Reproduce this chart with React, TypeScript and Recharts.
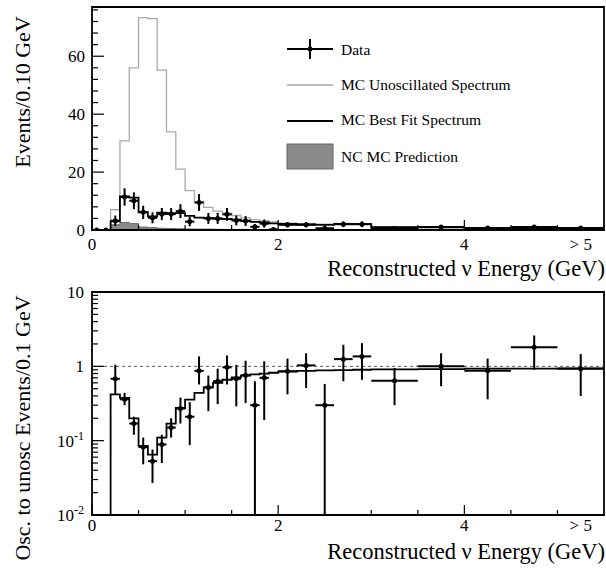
import React from 'react';
import {
  ComposedChart, Line, Area, Scatter, ErrorBar, XAxis, YAxis,
  ReferenceArea, ReferenceLine, Legend,
} from 'recharts';

const FONT = '"Liberation Serif", "DejaVu Serif", serif';

// histogram bin low edges (GeV), last entry closes the final bin
const binEdges = [0, 0.2, 0.3, 0.4, 0.5, 0.6, 0.7, 0.8, 0.9, 1.0, 1.1, 1.2, 1.3, 1.4, 1.5, 1.6, 1.7, 1.8, 1.9, 2.0, 2.2, 2.4, 2.6, 2.8, 3.0, 3.5, 4.0, 4.5, 5.0, 5.5];
// events / 0.10 GeV per bin
const unoscillated = [0, 7, 30.8, 56, 73.3, 73, 55.2, 33.9, 21, 13.6, 9.8, 7.8, 6.5, 5.8, 5.0, 4.2, 3.6, 3.2, 2.8, 2.4, 2.2, 2.0, 2.3, 2.2, 1.1, 1.0, 0.7, 0.6, 0.6];
const bestFit = [0, 3.0, 11.6, 11.2, 6.2, 4.7, 6.0, 5.8, 5.8, 4.9, 4.3, 4.1, 3.9, 3.8, 3.6, 3.2, 2.8, 2.6, 2.3, 2.1, 1.9, 1.8, 2.0, 2.0, 1.0, 0.9, 0.65, 0.55, 0.55];
const ncPrediction = [0, 1.8, 2.6, 2.2, 1.0, 0.8, 0.6, 0.5, 0.4, 0.35, 0.3, 0.3, 0.25, 0.2, 0.2, 0.2, 0.15, 0.15, 0.15, 0.1, 0.1, 0.1, 0.1, 0.1, 0.1, 0.05, 0.05, 0.05, 0.05];

// data points, top panel
const dataX = [0.05, 0.15, 0.25, 0.35, 0.45, 0.55, 0.65, 0.75, 0.85, 0.95, 1.05, 1.15, 1.25, 1.35, 1.45, 1.55, 1.65, 1.75, 1.85, 1.95, 2.1, 2.3, 2.5, 2.7, 2.9, 3.25, 3.75, 4.25, 4.75, 5.25];
const dataHalfWidth = [0.05, 0.05, 0.05, 0.05, 0.05, 0.05, 0.05, 0.05, 0.05, 0.05, 0.05, 0.05, 0.05, 0.05, 0.05, 0.05, 0.05, 0.05, 0.05, 0.05, 0.1, 0.1, 0.1, 0.1, 0.1, 0.25, 0.25, 0.25, 0.25, 0.25];
const dataEvents = [0, 0, 3.2, 11.4, 10.1, 6.1, 4.2, 5.5, 5.5, 6.5, 2.9, 9.5, 4.0, 4.0, 5.4, 3.3, 3.1, 1.1, 2.2, 0.2, 1.8, 1.8, 0.6, 2.0, 2.0, 0.5, 1.0, 0.7, 1.0, 0.7];
const dataErr = [0, 0, 1.8, 3.0, 2.9, 2.3, 1.9, 2.1, 2.1, 2.4, 1.6, 2.9, 1.9, 1.9, 2.2, 1.7, 1.7, 1.0, 1.4, 0.4, 0.9, 0.9, 0.5, 1.0, 1.0, 0.3, 0.45, 0.35, 0.45, 0.35];

// ratio panel
const ratioEdges = [0.2, 0.2, 0.3, 0.4, 0.5, 0.6, 0.7, 0.8, 0.9, 1.0, 1.1, 1.2, 1.3, 1.4, 1.5, 1.6, 1.7, 1.8, 1.9, 2.0, 2.2, 2.4, 2.6, 2.8, 3.0, 3.5, 4.0, 4.5, 5.0, 5.5];
const ratioBestFit = [0.01, 0.42, 0.376, 0.2, 0.085, 0.065, 0.11, 0.17, 0.275, 0.357, 0.44, 0.52, 0.6, 0.66, 0.71, 0.75, 0.78, 0.8, 0.82, 0.85, 0.87, 0.88, 0.89, 0.9, 0.91, 0.92, 0.93, 0.93, 0.94];
const ratioX = [0.25, 0.35, 0.45, 0.55, 0.65, 0.75, 0.85, 0.95, 1.05, 1.15, 1.25, 1.35, 1.45, 1.55, 1.65, 1.75, 1.85, 2.1, 2.3, 2.5, 2.7, 2.9, 3.25, 3.75, 4.25, 4.75, 5.25];
const ratioHalfWidth = [0.05, 0.05, 0.05, 0.05, 0.05, 0.05, 0.05, 0.05, 0.05, 0.05, 0.05, 0.05, 0.05, 0.05, 0.05, 0.05, 0.05, 0.1, 0.1, 0.1, 0.1, 0.1, 0.25, 0.25, 0.25, 0.25, 0.25];
const ratioVal = [0.68, 0.36, 0.17, 0.082, 0.053, 0.089, 0.15, 0.27, 0.21, 0.87, 0.52, 0.63, 0.97, 0.68, 0.76, 0.3, 0.7, 0.86, 1.03, 0.3, 1.25, 1.36, 0.64, 1.0, 0.87, 1.8, 0.93];
const ratioHi = [1.05, 0.44, 0.21, 0.11, 0.076, 0.12, 0.2, 0.38, 0.33, 1.36, 0.75, 0.93, 1.4, 1.05, 1.19, 0.63, 1.17, 1.27, 1.5, 0.58, 1.95, 2.05, 0.95, 1.5, 1.27, 2.6, 1.46];
const ratioLo = [0.42, 0.3, 0.12, 0.048, 0.027, 0.05, 0.11, 0.17, 0.087, 0.57, 0.25, 0.31, 0.57, 0.29, 0.32, 0.01, 0.19, 0.42, 0.51, 0.01, 0.63, 0.66, 0.3, 0.54, 0.36, 0.9, 0.4];

const xTicks = [0, 0.5, 1, 1.5, 2, 2.5, 3, 3.5, 4, 4.5, 5, 5.25];
const xMajor = [0, 2, 4];
const topYTicks = [0, 4, 8, 12, 16, 20, 24, 28, 32, 36, 40, 44, 48, 52, 56, 60, 64, 68, 72, 76];
const topYMajor = [0, 20, 40, 60];
const logTicks = [0.01, 0.02, 0.03, 0.04, 0.05, 0.06, 0.07, 0.08, 0.09, 0.1, 0.2, 0.3, 0.4, 0.5, 0.6, 0.7, 0.8, 0.9, 1, 2, 3, 4, 5, 6, 7, 8, 9, 10];
const logMajor = [0.01, 0.1, 1, 10];

const histData = binEdges.map((x, i) => ({
  x,
  unosc: unoscillated[Math.min(i, unoscillated.length - 1)],
  best: bestFit[Math.min(i, bestFit.length - 1)],
  nc: ncPrediction[Math.min(i, ncPrediction.length - 1)],
}));
const pointData = dataX.map((x, i) => ({ x, v: dataEvents[i], ye: dataErr[i], xe: dataHalfWidth[i] }));
const ratioLine = ratioEdges.map((x, i) => ({ x, r: ratioBestFit[Math.min(i, ratioBestFit.length - 1)] }));
const ratioPoints = ratioX.map((x, i) => ({
  x, v: ratioVal[i], ye: [ratioVal[i] - ratioLo[i], ratioHi[i] - ratioVal[i]], xe: ratioHalfWidth[i],
}));

const XTick = (props: any) => {
  const { x, y, payload, labelDy } = props;
  const v = payload.value;
  const ty = y + (labelDy ?? 19);
  if (v === 5.25) {
    return <text x={x} y={ty} textAnchor="middle" fontSize={17} fontFamily={FONT}>&gt; 5</text>;
  }
  const major = xMajor.includes(v);
  return (
    <g>
      <line x1={x} x2={x} y1={y} y2={y - (major ? 10 : 5)} stroke="#000" strokeWidth={1.2} />
      {major && <text x={x} y={ty} textAnchor="middle" fontSize={17} fontFamily={FONT}>{v}</text>}
    </g>
  );
};

const TopYTick = (props: any) => {
  const { x, y, payload } = props;
  const major = topYMajor.includes(payload.value);
  return (
    <g>
      <line x1={x} x2={x + (major ? 12 : 6)} y1={y} y2={y} stroke="#000" strokeWidth={1.2} />
      {major && <text x={x - 7} y={y} dy="0.35em" textAnchor="end" fontSize={17} fontFamily={FONT}>{payload.value}</text>}
    </g>
  );
};

const LogYTick = (props: any) => {
  const { x, y, payload } = props;
  const v = payload.value;
  const major = logMajor.includes(v);
  let label: React.ReactNode = null;
  if (v === 10) label = '10';
  else if (v === 1) label = '1';
  else if (v === 0.1) label = <>10<tspan dy={-7} fontSize={12}>-1</tspan></>;
  else if (v === 0.01) label = <>10<tspan dy={-7} fontSize={12}>-2</tspan></>;
  return (
    <g>
      <line x1={x} x2={x + (major ? 12 : 6)} y1={y} y2={y} stroke="#000" strokeWidth={1.2} />
      {major && <text x={x - 8} y={y + 6} textAnchor="end" fontSize={17} fontFamily={FONT}>{label}</text>}
    </g>
  );
};

function XTitle({ py }: { py: number }) {
  return (
    <text x={605} y={py} textAnchor="end" fontSize={22.5} fontFamily={FONT} fill="#000">
      Reconstructed ν Energy (GeV)
    </text>
  );
}

function YTitle({ px, py, text }: { px: number; py: number; text: string }) {
  return (
    <text x={px} y={py} transform={`rotate(-90 ${px} ${py})`} textAnchor="middle" fontSize={22} fontFamily={FONT} fill="#000">
      {text}
    </text>
  );
}

const dot = (p: any) => (p.cx == null || p.cy == null ? <g /> : <circle cx={p.cx} cy={p.cy} r={2.5} fill="#000" />);

function LegendBox() {
  const t = { fontSize: 15.5, fontFamily: FONT, fill: '#000' };
  return (
    <svg width={300} height={150} style={{ overflow: 'visible' }}>
      <line x1={7} x2={53} y1={14} y2={14} stroke="#000" strokeWidth={2} />
      <line x1={30} x2={30} y1={4} y2={24} stroke="#000" strokeWidth={2} />
      <circle cx={30} cy={14} r={2.5} fill="#000" />
      <text x={61} y={15} dy="0.35em" {...t}>Data</text>
      <line x1={7} x2={53} y1={50} y2={50} stroke="#aaa" strokeWidth={1.3} />
      <text x={61} y={50} dy="0.35em" {...t}>MC Unoscillated Spectrum</text>
      <line x1={7} x2={53} y1={86} y2={86} stroke="#000" strokeWidth={1.8} />
      <text x={61} y={85} dy="0.35em" {...t}>MC Best Fit Spectrum</text>
      <rect x={7} y={109} width={46} height={25} fill="#8a8a8a" stroke="#666" />
      <text x={61} y={122} dy="0.35em" {...t}>NC MC Prediction</text>
    </svg>
  );
}

export default function App() {
  return (
    <div style={{ position: 'absolute', left: 0, top: 0, width: 606, height: 570, background: '#fff', fontFamily: FONT }}>
      <div style={{ position: 'absolute', left: 0, top: 0 }}>
        <ComposedChart width={606} height={290} data={histData} margin={{ top: 7, right: 2, bottom: 0, left: 0 }}>
          <XAxis
            type="number" dataKey="x" domain={[0, 5.5]} allowDataOverflow ticks={xTicks} interval={0}
            tick={<XTick labelDy={20} />} tickLine={false} tickSize={0} tickMargin={0} axisLine={false} height={60}
            label={<XTitle py={276} />}
          />
          <YAxis
            type="number" domain={[0, 77]} allowDataOverflow ticks={topYTicks} interval={0}
            tick={<TopYTick />} tickLine={false} tickSize={0} tickMargin={0} axisLine={false} width={92}
            label={<YTitle px={30} py={92} text="Events/0.10 GeV" />}
          />
          <Area type="stepAfter" dataKey="nc" stroke="#666" strokeWidth={1} fill="#8a8a8a" fillOpacity={1} isAnimationActive={false} dot={false} activeDot={false} />
          <Line type="stepAfter" dataKey="unosc" stroke="#aaa" strokeWidth={1.3} dot={false} activeDot={false} isAnimationActive={false} />
          <Line type="stepAfter" dataKey="best" stroke="#000" strokeWidth={1.8} dot={false} activeDot={false} isAnimationActive={false} />
          <Scatter data={pointData} dataKey="v" shape={dot} isAnimationActive={false}>
            <ErrorBar dataKey="ye" direction="y" width={0} stroke="#000" strokeWidth={2} isAnimationActive={false} />
            <ErrorBar dataKey="xe" direction="x" width={0} stroke="#000" strokeWidth={2} isAnimationActive={false} />
          </Scatter>
          <ReferenceArea x1={0} x2={5.5} y1={0} y2={77} fill="none" stroke="#000" strokeWidth={1.8} />
          <Legend layout="vertical" align="center" verticalAlign="middle" content={<LegendBox />}
            wrapperStyle={{ left: 280, top: 35, width: 300, height: 150 }} />
        </ComposedChart>
      </div>
      <div style={{ position: 'absolute', left: 0, top: 280 }}>
        <ComposedChart width={606} height={290} data={ratioLine} margin={{ top: 12, right: 2, bottom: 0, left: 0 }}>
          <XAxis
            type="number" dataKey="x" domain={[0, 5.5]} allowDataOverflow ticks={xTicks} interval={0}
            tick={<XTick labelDy={16} />} tickLine={false} tickSize={0} tickMargin={0} axisLine={false} height={55}
            label={<XTitle py={279} />}
          />
          <YAxis
            type="number" scale="log" domain={[0.01, 10]} allowDataOverflow ticks={logTicks} interval={0}
            tick={<LogYTick />} tickLine={false} tickSize={0} tickMargin={0} axisLine={false} width={92}
            label={<YTitle px={30} py={148} text="Osc. to unosc Events/0.1 GeV" />}
          />
          <ReferenceLine y={1} stroke="#555" strokeWidth={1} strokeDasharray="3 3" />
          <Line type="stepAfter" dataKey="r" stroke="#000" strokeWidth={1.8} dot={false} activeDot={false} isAnimationActive={false} />
          <Scatter data={ratioPoints} dataKey="v" shape={dot} isAnimationActive={false}>
            <ErrorBar dataKey="ye" direction="y" width={0} stroke="#000" strokeWidth={2} isAnimationActive={false} />
            <ErrorBar dataKey="xe" direction="x" width={0} stroke="#000" strokeWidth={2} isAnimationActive={false} />
          </Scatter>
          <ReferenceArea x1={0} x2={5.5} y1={0.01} y2={10} fill="none" stroke="#000" strokeWidth={1.8} />
        </ComposedChart>
      </div>
    </div>
  );
}
